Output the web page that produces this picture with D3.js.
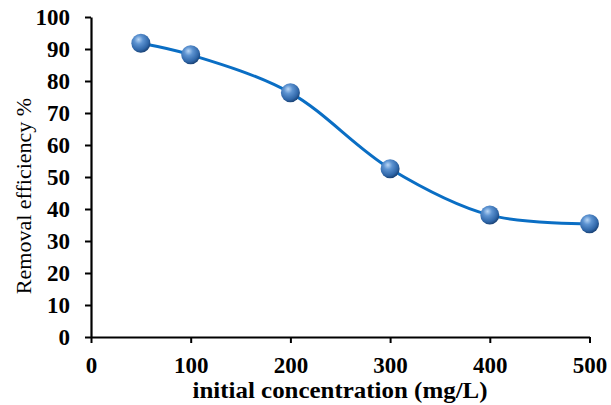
<!DOCTYPE html>
<html><head><meta charset="utf-8">
<script src="https://cdn.jsdelivr.net/npm/d3@7"></script>
<style>html,body{margin:0;padding:0;background:#fff;}svg{display:block;}</style>
</head><body>
<svg id="chart" width="611" height="405"></svg>
<script>
const concentrations = [50, 100, 200, 300, 400, 500];
const efficiency = [91.8, 88.2, 76.3, 52.6, 38.1, 35.4];
const xTicks = [0, 100, 200, 300, 400, 500];
const yTicks = [0, 10, 20, 30, 40, 50, 60, 70, 80, 90, 100];
const xTitle = "initial concentration (mg/L)";
const yTitle = "Removal efficiency %";

const svg = d3.select("#chart");
const x = d3.scaleLinear().domain([0, 500]).range([91, 589.5]);
const y = d3.scaleLinear().domain([0, 100]).range([337, 17]);
const font = "'Liberation Serif','Times New Roman',serif";

const defs = svg.append("defs");
const grad = defs.append("radialGradient").attr("id", "ball")
  .attr("cx", "0.4").attr("cy", "0.35").attr("r", "0.65").attr("fx", "0.38").attr("fy", "0.3");
grad.append("stop").attr("offset", "0").attr("stop-color", "#b9d6f5");
grad.append("stop").attr("offset", "0.35").attr("stop-color", "#5d93d1");
grad.append("stop").attr("offset", "0.8").attr("stop-color", "#2f66a8");
grad.append("stop").attr("offset", "1").attr("stop-color", "#1b4478");

// axes
const xAxis = svg.append("g").attr("transform", `translate(0,${y(0)})`)
  .call(d3.axisBottom(x).tickValues(xTicks).tickSize(6).tickSizeOuter(0).tickPadding(14));
const yAxis = svg.append("g").attr("transform", `translate(${x(0)},0)`)
  .call(d3.axisLeft(y).tickValues(yTicks).tickSize(6).tickSizeOuter(0).tickPadding(15));
[xAxis, yAxis].forEach(g => {
  g.select(".domain").attr("stroke", "#000").attr("stroke-width", 2.2);
  g.selectAll(".tick line").attr("stroke", "#000").attr("stroke-width", 2);
  g.selectAll(".tick text").attr("font-family", font).attr("font-weight", "bold")
    .attr("font-size", 23).attr("fill", "#000");
});
xAxis.selectAll(".tick text").attr("dy", "0.71em");

// line
const pts = concentrations.map((c, i) => [x(c), y(efficiency[i])]);
svg.append("path").attr("d", d3.line().curve(d3.curveCatmullRom.alpha(0.5))(pts))
  .attr("fill", "none").attr("stroke", "#0a6ec4").attr("stroke-width", 3);

// markers
svg.selectAll("circle.pt").data(pts).enter().append("circle")
  .attr("class", "pt").attr("cx", d => d[0]).attr("cy", d => d[1]).attr("r", 9.5)
  .attr("fill", "url(#ball)");

// titles
svg.append("text").attr("x", 340).attr("y", 398).attr("text-anchor", "middle")
  .attr("font-family", font).attr("font-weight", "bold").attr("font-size", 23)
  .attr("textLength", 295).attr("lengthAdjust", "spacingAndGlyphs").text(xTitle);
svg.append("text").attr("transform", "translate(31,196) rotate(-90)").attr("text-anchor", "middle")
  .attr("font-family", font).attr("font-size", 22).attr("fill", "#000").text(yTitle);
</script>
</body></html>
